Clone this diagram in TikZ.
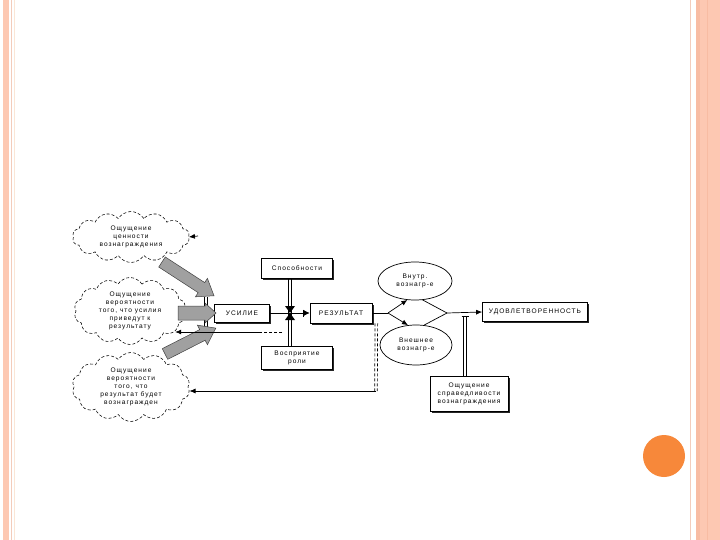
\documentclass[tikz,border=0pt]{standalone}
\usepackage{fontspec}
\setmainfont{Liberation Sans}
\newfontfamily\dg[LetterSpace=15]{Liberation Sans}
\usetikzlibrary{shapes.symbols,shapes.geometric,shadows,arrows.meta}
\definecolor{salmon}{HTML}{FDC8B2}
\definecolor{salmondk}{HTML}{F8BCA3}
\definecolor{pinkline}{HTML}{F3CCBB}
\definecolor{paleline}{HTML}{FAE6D6}
\definecolor{dot}{HTML}{F7883A}
\definecolor{arrgray}{HTML}{A0A0A0}
\begin{document}
\begin{tikzpicture}[x=1pt,y=-1pt,
  txt/.style={font=\dg\fontsize{6.6}{8}\selectfont, align=center},
  box/.style={txt, draw, fill=white, line width=0.7pt, inner sep=1pt,
    drop shadow={shadow xshift=1.6pt, shadow yshift=-1.6pt, fill=black, opacity=0.85}},
  ell/.style={txt, ellipse, draw, fill=white, line width=0.7pt, inner sep=0pt},
  cl/.style={txt, cloud, cloud puffs=14, cloud puff arc=115, cloud ignores aspect,
    draw, densely dashed, line width=0.55pt, inner sep=0pt},
  conn/.style={line width=0.7pt},
  tip/.style={-{Latex[length=6pt,width=5pt]}},
  vl/.style={conn, transform canvas={xshift=-1.3pt}},
  vr/.style={conn, transform canvas={xshift=1.3pt}},
  garrow/.style={fill=arrgray, draw=black!75, line width=0.5pt}
]
\useasboundingbox (0,0) rectangle (720,540);
\fill[white] (0,0) rectangle (720,540);
% slide decoration
\fill[salmon] (3,0) rectangle (9,540);
\draw[pinkline, line width=1pt] (11.5,0) -- (11.5,540);
\draw[paleline, line width=0.8pt] (14.5,0) -- (14.5,540);
\draw[pinkline, line width=1.5pt] (690.5,0) -- (690.5,540);
\fill[salmondk] (696,0) rectangle (700,540);
\fill[salmon] (700,0) rectangle (720,540);
\draw[salmondk, line width=0.8pt] (707,0) -- (707,540);
\fill[dot] (664,456) circle (21);

% clouds
\node[cl, minimum width=117, minimum height=51] (cl1) at (131,237)
  {Ощущение\\ценности\\вознаграждения};
\node[cl, minimum width=112, minimum height=67] (cl2) at (130,311)
  {Ощущение\\вероятности\\того, что усилия\\приведут к\\результату};
\node[cl, minimum width=118, minimum height=69] (cl3) at (131,387)
  {Ощущение\\вероятности\\того, что\\результат будет\\вознагражден};

% boxes
\node[box, minimum width=71, minimum height=20] (spos) at (297,268) {Способности};
\node[box, minimum width=55, minimum height=18] (usil) at (242,313) {УСИЛИЕ};
\node[box, minimum width=62, minimum height=20] (res) at (341,313) {РЕЗУЛЬТАТ};
\node[box, minimum width=71, minimum height=23] (vospr) at (297,358) {Восприятие\\роли};
\node[box, minimum width=105, minimum height=19] (udov) at (535,312) {УДОВЛЕТВОРЕННОСТЬ};
\node[box, minimum width=78, minimum height=35] (sprav) at (469,394)
  {Ощущение\\справедливости\\вознаграждения};
\node[ell, minimum width=74, minimum height=38] (vnutr) at (415,281) {Внутр.\\вознагр-е};
\node[ell, minimum width=72, minimum height=40] (vnesh) at (416,345) {Внешнее\\вознагр-е};

% coordinates
\coordinate (x1) at (290,313);
\coordinate (j1) at (388,313);
\coordinate (j2) at (447,313);
\coordinate (j3) at (465,316);
\coordinate (fb) at (376,391);
\coordinate (c2e) at (282,332);
\coordinate (c1e) at (198,236);
\coordinate (g1) at (206,297);
\coordinate (g2) at (206,329);

% gray arrows
\draw[vl] (g1) -- (g2);
\draw[vr] (g1) -- (g2);
\begin{scope}[shift={(162,262)}, rotate=-33]
  \path[garrow] (0,-6) -- (47,-6) -- (47,-11) -- (62,0) -- (47,11) -- (47,6) -- (0,6) -- cycle;
\end{scope}
\begin{scope}[shift={(178,313)}]
  \path[garrow] (0,-7) -- (27,-7) -- (27,-10) -- (38,0) -- (27,10) -- (27,7) -- (0,7) -- cycle;
\end{scope}
\begin{scope}[shift={(165,354)}, rotate=27]
  \path[garrow] (0,-6) -- (42,-6) -- (42,-11) -- (57,0) -- (42,11) -- (42,6) -- (0,6) -- cycle;
\end{scope}

% connectors
\draw[vl] (spos.south -| x1) -- (vospr.north -| x1);
\draw[vr] (spos.south -| x1) -- (vospr.north -| x1);
\fill (285,306) -- (295,306) -- (x1) -- cycle;
\fill (285,320) -- (295,320) -- (x1) -- cycle;
\draw[conn, -{Bar[width=7pt] . Latex[length=6pt,width=6pt]}] (usil.east) -- (res.west);
\draw[conn] (res.east) -- (j1);
\draw[conn, tip] (j1) -- (vnutr.248);
\draw[conn, tip] (j1) -- (vnesh.112);
\draw[conn] (vnutr.292) -- (j2);
\draw[conn] (vnesh.68) -- (j2);
\draw[conn, tip] (j2) -- (udov.west);
\draw[vl] (sprav.north -| j3) -- (j3);
\draw[vr] (sprav.north -| j3) -- (j3);
\draw[conn] ([xshift=-3.5pt]j3) -- ([xshift=3.5pt]j3);
\draw[vl, densely dashed] ([xshift=4pt]res.south east) -- (fb);
\draw[vr, densely dashed] ([xshift=4pt]res.south east) -- (fb);
\draw[conn, tip] (fb) -- (fb -| cl3.-4);
\draw[conn, densely dashed] (c2e) -- ++(-22,0);
\draw[conn, tip] ([xshift=-22pt]c2e) -- (c2e -| cl2.-24);
\draw[conn, tip] (c1e) -- (cl1.east);
\end{tikzpicture}
\end{document}
